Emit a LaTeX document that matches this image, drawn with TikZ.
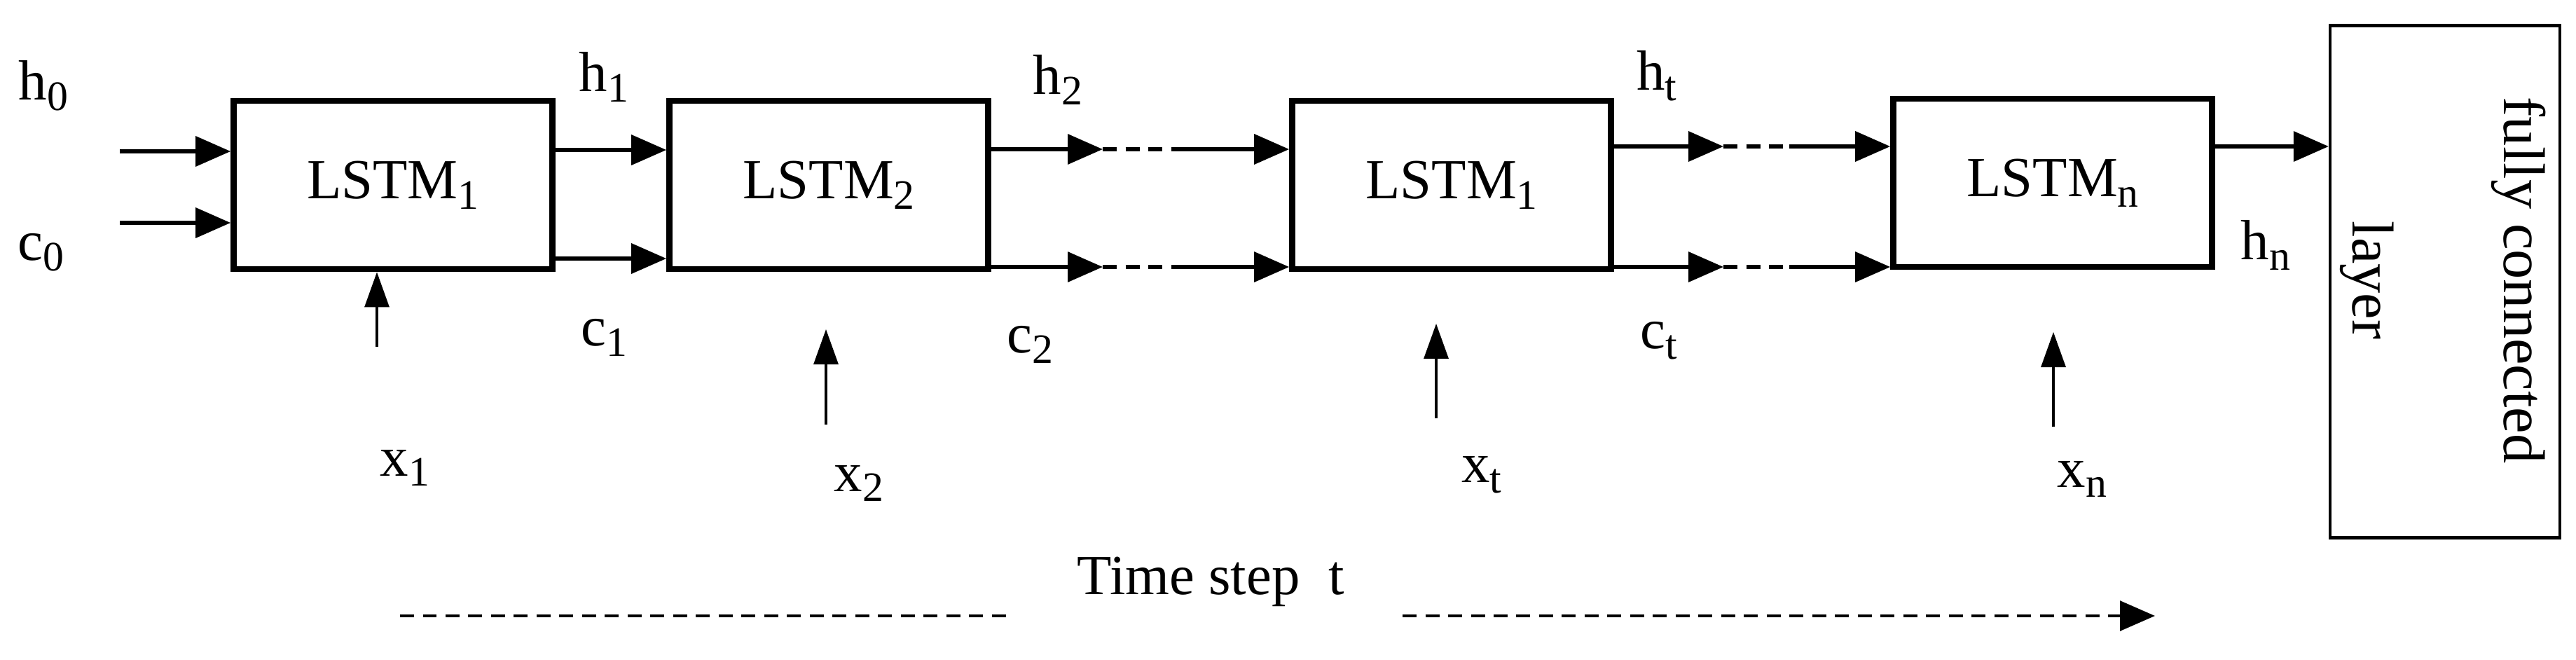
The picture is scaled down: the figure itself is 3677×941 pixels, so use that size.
\documentclass[tikz,border=0pt]{standalone}
\usepackage{fontspec}
\setmainfont{Liberation Serif}
\usetikzlibrary{arrows.meta}
\newcommand{\sbs}[1]{\raisebox{-0.4ex}{\fontsize{34}{40}\selectfont #1}}
\begin{document}
\begin{tikzpicture}[x=0.02cm,y=-0.02cm,
  lbl/.style={font=\fontsize{46}{52}\selectfont, inner sep=0pt},
  box/.style={draw, line width=5pt, minimum width=9.1cm, minimum height=4.8cm, font=\fontsize{46}{52}\selectfont},
  arr/.style={line width=3pt, -{Triangle[length=1cm,width=0.85cm]}},
  xarr/.style={line width=1.8pt, -{Triangle[length=1cm,width=0.7cm]}},
  dsh/.style={line width=3pt, dash pattern=on 0.4cm off 0.25cm}]
\useasboundingbox (0,0) rectangle (3677,941);
\node[box] (b1) at (561,264) {LSTM\sbs{1}};
\node[box] (b2) at (1183,264) {LSTM\sbs{2}};
\node[box] (b3) at (2072,264) {LSTM\sbs{1}};
\node[box] (b4) at (2930,261) {LSTM\sbs{n}};
\node[draw, line width=2.5pt, minimum width=6.56cm, minimum height=14.62cm] (fc) at (3490,402) {};
\node[lbl, rotate=-90, align=center, font=\fontsize{48}{123}\selectfont] (fct) at (3487,400) {fully connected\\layer};
% inputs
\coordinate (h0s) at (171,216); \coordinate (c0s) at (171,318);
\draw[arr] (h0s) -- (b1.west |- h0s);
\draw[arr] (c0s) -- (b1.west |- c0s);
% box1 -> box2
\coordinate (h1) at (b1.east |- 0,214); \coordinate (c1) at (b1.east |- 0,369);
\draw[arr] (h1) -- (b2.west |- h1);
\draw[arr] (c1) -- (b2.west |- c1);
% box2 -> box3
\coordinate (h2a) at (1574,213); \coordinate (h2b) at (1683,213);
\coordinate (c2a) at (1574,381); \coordinate (c2b) at (1683,381);
\draw[arr] (b2.east |- h2a) -- (h2a); \draw[dsh] (h2a) -- (h2b); \draw[arr] (h2b) -- (b3.west |- h2b);
\draw[arr] (b2.east |- c2a) -- (c2a); \draw[dsh] (c2a) -- (c2b); \draw[arr] (c2b) -- (b3.west |- c2b);
% box3 -> box4
\coordinate (hta) at (2460,209); \coordinate (htb) at (2554,209);
\coordinate (cta) at (2460,381); \coordinate (ctb) at (2554,381);
\draw[arr] (b3.east |- hta) -- (hta); \draw[dsh] (hta) -- (htb); \draw[arr] (htb) -- (b4.west |- htb);
\draw[arr] (b3.east |- cta) -- (cta); \draw[dsh] (cta) -- (ctb); \draw[arr] (ctb) -- (b4.west |- ctb);
% box4 -> fc
\draw[arr] (b4.east |- 0,209) -- (fc.west |- 0,209);
% x inputs
\coordinate (x1s) at (538,495); \draw[xarr] (x1s) -- (b1.south -| x1s);
\coordinate (x2s) at (1179,606); \coordinate (x2e) at (1179,470); \draw[xarr] (x2s) -- (x2e);
\coordinate (xts) at (2050,597); \coordinate (xte) at (2050,462); \draw[xarr] (xts) -- (xte);
\coordinate (xns) at (2931,609); \coordinate (xne) at (2931,474); \draw[xarr] (xns) -- (xne);
% labels
\node[lbl] (lh0) at (62,122) {h\sbs{0}};
\node[lbl] (lc0) at (58,360) {c\sbs{0}};
\node[lbl] (lh1) at (862,110) {h\sbs{1}};
\node[lbl] (lc1) at (862,482) {c\sbs{1}};
\node[lbl] (lh2) at (1510,114) {h\sbs{2}};
\node[lbl] (lc2) at (1470,492) {c\sbs{2}};
\node[lbl] (lht) at (2365,108) {h\sbs{t}};
\node[lbl] (lct) at (2368,486) {c\sbs{t}};
\node[lbl] (lhn) at (3234,350) {h\sbs{n}};
\node[lbl] (lx1) at (578,668) {x\sbs{1}};
\node[lbl] (lx2) at (1226,690) {x\sbs{2}};
\node[lbl] (lxt) at (2115,678) {x\sbs{t}};
\node[lbl] (lxn) at (2972,684) {x\sbs{n}};
\node[lbl] (ts) at (1728,830) {Time step\ \ t};
% time dashed lines
\coordinate (t1a) at (571,879); \coordinate (t1b) at (1444,879);
\coordinate (t2a) at (2002,879); \coordinate (t2b) at (3076,879);
\draw[dsh, line width=2.5pt] (t1a) -- (t1b);
\draw[dsh, line width=2.5pt, -{Triangle[length=1cm,width=0.85cm]}] (t2a) -- (t2b);
\end{tikzpicture}
\end{document}
